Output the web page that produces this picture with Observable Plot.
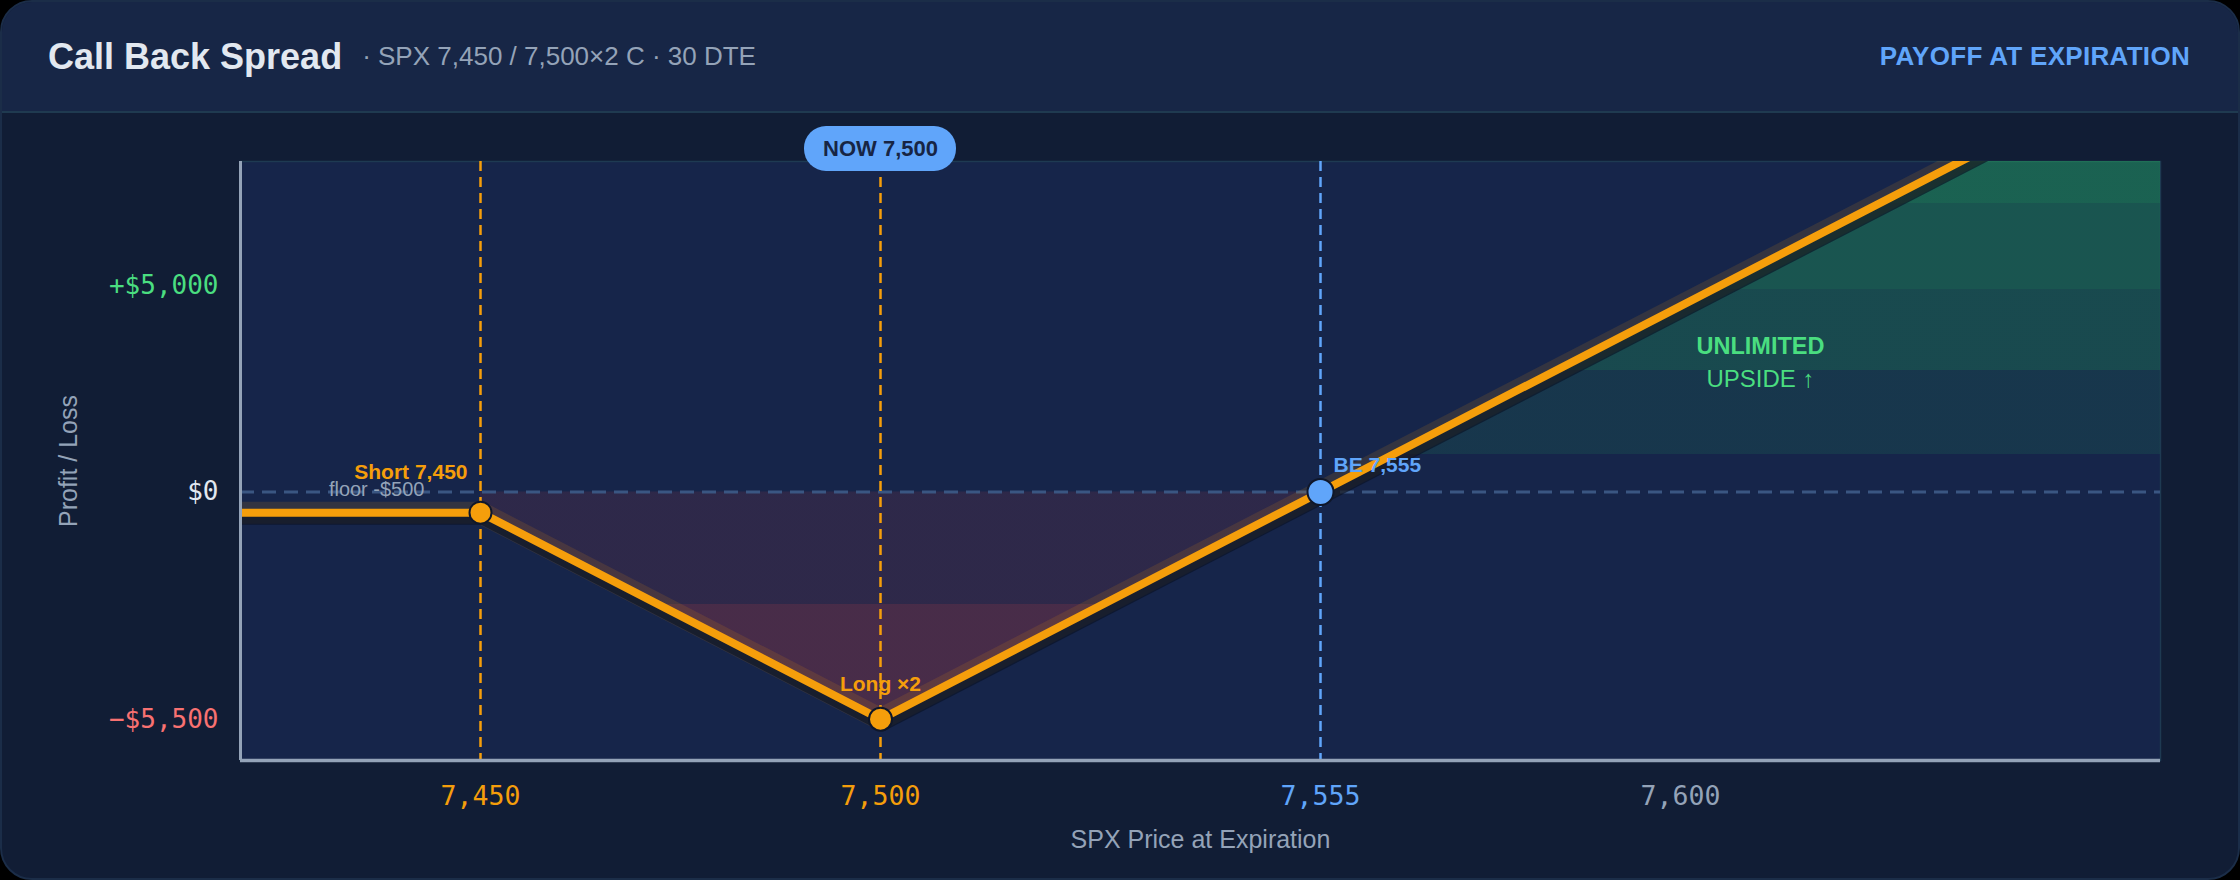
<!DOCTYPE html>
<html>
<head>
<meta charset="utf-8">
<script src="https://cdn.jsdelivr.net/npm/d3@7"></script>
<script src="https://cdn.jsdelivr.net/npm/@observablehq/plot@0.6"></script>
<style>
html,body{margin:0;padding:0;background:#000;}
#card{position:relative;width:2240px;height:880px;box-sizing:border-box;border:2px solid #1b2d48;border-radius:32px;overflow:hidden;background:#111d35;font-family:"Liberation Sans",Arial,sans-serif;}
#header{height:111px;box-sizing:border-box;border-bottom:2px solid #1f3a50;background:#172646;display:flex;align-items:center;padding:0 48px 0 46px;}
#title{font-size:36px;font-weight:700;color:#e2e8f0;}
#sub{font-size:26px;color:#94a3b8;margin-left:20px;}
#badge{margin-left:auto;font-size:26px;font-weight:700;color:#60a5fa;letter-spacing:0.3px;}
#chart svg{display:block;}
</style>
</head>
<body>
<div id="card">
  <div id="header">
    <span id="title">Call Back Spread</span>
    <span id="sub">· SPX 7,450 / 7,500×2 C · 30 DTE</span>
    <span id="badge">PAYOFF AT EXPIRATION</span>
  </div>
  <div id="chart"></div>
</div>
<script>
// ---- data ----
const priceDomain = [7420, 7660];
const pnlDomain = [-6500, 8000];

const payoffPrice = [7420, 7450, 7500, 7555, 7660];
const payoffPnl   = [-500, -500, -5500, 0, 10500];

const lossPrice = [7450, 7500, 7555];
const lossPnl   = [-500, -5500, 0];

const gainPrice = [7555, 7660];
const gainPnl   = [0, 10500];

const guidePrice  = [7450, 7500, 7555];
const guideColors = ["#f59e0b", "#f59e0b", "#60a5fa"];

const markerPrice = [7450, 7500, 7555];
const markerPnl   = [-500, -5500, 0];
const markerFill  = ["#f59e0b", "#f59e0b", "#60a5fa"];
const markerR     = [11, 11.5, 13];

const xTicks      = [7450, 7500, 7555, 7600];
const xTickLabels = ["7,450", "7,500", "7,555", "7,600"];
const xTickColors = ["#f59e0b", "#f59e0b", "#60a5fa", "#94a3b8"];

const yTicks      = [5000, 0, -5500];
const yTickLabels = ["+$5,000", "$0", "−$5,500"];
const yTickColors = ["#4ade80", "#e2e8f0", "#f87171"];

const nowPrice = 7500;
const nowLabel = "NOW 7,500";
const upsidePrice = 7610;
const upsidePnl = [3520, 2720];
const upsideLabels = ["UNLIMITED", "UPSIDE ↑"];

const xLabel = "SPX Price at Expiration";
const yLabel = "Profit / Loss";

// ---- tables ----
const payoff = payoffPrice.map((p, i) => ({p, v: payoffPnl[i]}));
const loss = lossPrice.map((p, i) => ({p, v: lossPnl[i]}));
const gain = gainPrice.map((p, i) => ({p, v: gainPnl[i]}));
const markers = markerPrice.map((p, i) => ({p, v: markerPnl[i], f: markerFill[i], r: markerR[i]}));

const sans = "'Liberation Sans', Arial, sans-serif";
const mono = "'DejaVu Sans Mono', monospace";

const plot = Plot.plot({
  width: 2236,
  height: 765,
  marginLeft: 238,
  marginRight: 78,
  marginTop: 48,
  marginBottom: 118,
  x: {domain: priceDomain, axis: null},
  y: {domain: pnlDomain, axis: null},
  r: {type: "identity"},
  color: {type: "identity"},
  style: {background: "transparent", fontFamily: sans, overflow: "visible"},
  marks: [
    Plot.frame({fill: "#16254a", stroke: "#1e3a52", strokeWidth: 1.5}),
    Plot.areaY(loss, {x: "p", y1: 0, y2: "v", fill: "url(#lossGrad)", clip: true}),
    Plot.areaY(gain, {x: "p", y1: 0, y2: "v", fill: "url(#gainGrad)", clip: true}),
    Plot.ruleY([0], {stroke: "#3a5682", strokeWidth: 3, strokeDasharray: "14,8"}),
    Plot.ruleX(guidePrice, {x: d => d, stroke: (d, i) => guideColors[i], strokeWidth: 2.5, strokeDasharray: "10,6"}),
    Plot.line(payoff, {x: "p", y: "v", stroke: "#f59e0b", strokeOpacity: 0.13, strokeWidth: 22, strokeLinejoin: "round", clip: true}),
    Plot.line(payoff, {x: "p", y: "v", stroke: "#0a1224", strokeOpacity: 0.65, strokeWidth: 12, dx: 2, dy: 6, strokeLinejoin: "round", clip: true}),
    Plot.line(payoff, {x: "p", y: "v", stroke: "#f59e0b", strokeWidth: 8, strokeLinejoin: "round", clip: true}),
    Plot.ruleX([priceDomain[0]], {stroke: "#94a3b8", strokeWidth: 3}),
    Plot.ruleY([pnlDomain[0]], {stroke: "#94a3b8", strokeWidth: 3.5}),
    Plot.dot(markers, {x: "p", y: "v", r: "r", fill: "f", stroke: "#0f172a", strokeWidth: 2}),
    // annotations
    Plot.text([markers[0]], {x: "p", y: "v", text: () => "Short 7,450", dx: -13, dy: -40, textAnchor: "end", fill: "#f59e0b", fontWeight: 700, fontSize: 21}),
    Plot.text([markers[0]], {x: "p", y: "v", text: () => "floor -$500", dx: -56, dy: -23, textAnchor: "end", fill: "#94a3b8", fontSize: 20}),
    Plot.text([markers[1]], {x: "p", y: "v", text: () => "Long ×2", dy: -35, fill: "#f59e0b", fontWeight: 700, fontSize: 21}),
    Plot.text([markers[2]], {x: "p", y: "v", text: () => "BE 7,555", dx: 13, dy: -27, textAnchor: "start", fill: "#60a5fa", fontWeight: 700, fontSize: 21}),
    Plot.text([upsideLabels[0]], {x: upsidePrice, y: upsidePnl[0], text: d => d, fill: "#4ade80", fontWeight: 700, fontSize: 23.5}),
    Plot.text([upsideLabels[1]], {x: upsidePrice, y: upsidePnl[1], text: d => d, fill: "#4ade80", fontSize: 24}),
    // tick labels
    Plot.text(xTicks, {x: d => d, frameAnchor: "bottom", lineAnchor: "middle", dy: 36, text: (d, i) => xTickLabels[i], fill: (d, i) => xTickColors[i], fontFamily: mono, fontSize: 26.5}),
    Plot.text(yTicks, {y: d => d, frameAnchor: "left", lineAnchor: "middle", dx: -22, textAnchor: "end", text: (d, i) => yTickLabels[i], fill: (d, i) => yTickColors[i], fontFamily: mono, fontSize: 26}),
    // axis titles
    Plot.text([yLabel], {frameAnchor: "left", textAnchor: "middle", lineAnchor: "middle", dx: -172, rotate: -90, text: d => d, fill: "#94a3b8", fontSize: 25}),
    Plot.text([xLabel], {frameAnchor: "bottom", textAnchor: "middle", lineAnchor: "middle", dy: 79, text: d => d, fill: "#94a3b8", fontSize: 25}),
    // NOW pill
    Plot.rect([nowPrice], {x1: d => d, x2: d => d, y1: pnlDomain[1], y2: pnlDomain[1], insetLeft: -76, insetRight: -76, insetTop: -35, insetBottom: -10, rx: 22, fill: "#60a5fa"}),
    Plot.text([nowPrice], {x: d => d, y: pnlDomain[1], dy: -12.5, text: () => nowLabel, fill: "#172544", fontWeight: 700, fontSize: 22})
  ]
});

// gradient fills (stepped), positioned through the y scale
const ys = plot.scale("y");
const defs = d3.select(plot).insert("defs", ":first-child");
function stepGrad(id, color, vFrom, vTo, bands) {
  const g = defs.append("linearGradient")
    .attr("id", id)
    .attr("gradientUnits", "userSpaceOnUse")
    .attr("x1", 0).attr("x2", 0)
    .attr("y1", ys.apply(vFrom)).attr("y2", ys.apply(vTo));
  bands.forEach(([o0, o1, a]) => {
    g.append("stop").attr("offset", o0).attr("stop-color", color).attr("stop-opacity", a);
    g.append("stop").attr("offset", o1).attr("stop-color", color).attr("stop-opacity", a);
  });
}
stepGrad("lossGrad", "#ef4444", 0, -5500, [[0, 0.495, 0.11], [0.495, 1, 0.23]]);
stepGrad("gainGrad", "#22c55e", 0, 8000, [[0, 0.113, 0.0], [0.113, 0.368, 0.11], [0.368, 0.613, 0.23], [0.613, 0.873, 0.30], [0.873, 1, 0.38]]);

document.getElementById("chart").appendChild(plot);
</script>
</body>
</html>
